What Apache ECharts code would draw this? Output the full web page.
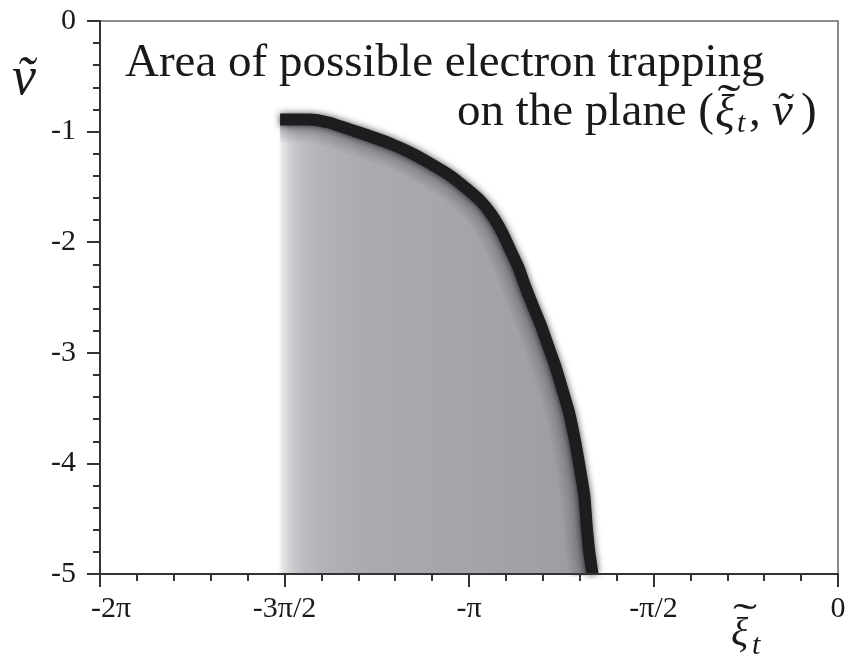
<!DOCTYPE html>
<html><head><meta charset="utf-8">
<script src="https://cdn.jsdelivr.net/npm/echarts@6/dist/echarts.min.js"></script>
<style>html,body{margin:0;padding:0;background:#fff}#c{width:846px;height:665px}</style>
</head><body><div id="c"></div>
<script>
const PI = Math.PI;
// x tick labels (multiples of pi/2 from -2pi to 0)
const xTickLabels = ['-2π', '-3π/2', '-π', '-π/2', '0'];
// left edge of the trapping area (xi, rad)
const leftXi = -4.77;
// dark boundary band centre line: xi (rad) and v
const bandXi = [-4.75, -4.50, -4.33, -4.16, -3.99, -3.81, -3.64, -3.47, -3.30, -3.18, -3.05, -2.95, -2.86, -2.79, -2.72, -2.67, -2.60, -2.53, -2.47, -2.41, -2.35, -2.29, -2.24, -2.20, -2.16, -2.14, -2.12, -2.09];
const bandV  = [-0.89, -0.89, -0.92, -0.98, -1.04, -1.11, -1.19, -1.29, -1.40, -1.50, -1.62, -1.75, -1.91, -2.07, -2.23, -2.38, -2.57, -2.75, -2.93, -3.11, -3.32, -3.54, -3.79, -4.03, -4.29, -4.56, -4.78, -5.00];

const SERIF = "'Liberation Serif', 'Times New Roman', serif";
const TXT = '#1a1a1a';
const bandData = bandXi.map((x, i) => [x, bandV[i]]);

function renderInterior(params, api) {
  const pts = bandData.map(p => api.coord(p));
  const top = api.coord([leftXi, bandV[0]]), bot = api.coord([leftXi, bandV[bandV.length - 1]]);
  const x0 = top[0], span = 330;
  const st = [[0,'#ffffff'],[5,'#e6e6e8'],[12,'#d0d0d3'],[22,'#c0c0c4'],[45,'#b3b3b7'],[90,'#ababaf'],[180,'#a6a6aa'],[250,'#a1a1a5'],[330,'#9a9a9e']];
  const g = new echarts.graphic.LinearGradient(x0, 0, x0 + span, 0, st.map(s => ({ offset: s[0] / span, color: s[1] })), true);
  return { type: 'polygon', shape: { points: [top].concat(pts, [bot]) }, style: { fill: g } };
}
function renderCover(params, api) {
  const pts = bandData.map(p => api.coord(p));
  const cs = params.coordSys;
  const R = cs.x + cs.width - 1.5, T = cs.y + 1.5, B = cs.y + cs.height;
  const poly = pts.concat([[R, B], [R, T], [pts[0][0] - 3, T], [pts[0][0] - 3, pts[0][1]]]);
  return { type: 'polygon', shape: { points: poly }, style: { fill: '#ffffff' } };
}

const chart = echarts.init(document.getElementById('c'), null, { renderer: 'canvas' });
const axisCommon = {
  z: 20,
  axisLine: { onZero: false, lineStyle: { color: '#333', width: 2 } },
  axisTick: { inside: false, length: 13, lineStyle: { color: '#333', width: 2 } },
  minorTick: { show: true, splitNumber: 5, length: 7, lineStyle: { color: '#333', width: 2 } },
  splitLine: { show: false }, minorSplitLine: { show: false }
};
const bandLine = (w, color, z, extra) => ({
  type: 'line', data: bandData, symbol: 'none', smooth: 0.2, silent: true, z: z,
  lineStyle: Object.assign({ color: color, width: w, cap: 'butt', join: 'round' }, extra || {})
});
const halo = [];
[46, 40, 34, 28, 22, 16].forEach((w, i) => halo.push(bandLine(w, 'rgba(40,40,46,0.055)', 2 + i * 0.01)));

const txt = (x, y, text, font, align, extra) => Object.assign({ type: 'text', x: x, y: y, z: 100, style: { text: text, font: font, fill: TXT, align: align || 'left', verticalAlign: 'middle' } }, extra || {});

chart.setOption({
  animation: false,
  backgroundColor: '#fff',
  grid: { left: 100, right: 8, top: 21, bottom: 91, show: true, borderColor: '#666', borderWidth: 1.5, containLabel: false, outerBoundsMode: 'none' },
  xAxis: Object.assign({
    type: 'value', min: -2 * PI, max: 0, interval: PI / 2,
    axisLabel: {
      margin: 20, fontSize: 30, fontFamily: SERIF, color: TXT, showMinLabel: true, showMaxLabel: true,
      formatter: v => { const k = Math.round((v + 2 * PI) / (PI / 2)); const s = xTickLabels[k]; return k === 0 ? '{f|' + s + '}' : s; },
      rich: { f: { padding: [0, 0, 0, 22], fontSize: 30, fontFamily: SERIF, color: TXT } }
    }
  }, axisCommon),
  yAxis: Object.assign({
    type: 'value', min: -5, max: 0, interval: 1,
    axisLabel: { margin: 24, fontSize: 30, fontFamily: SERIF, color: TXT, padding: [9, 0, 0, 0], showMinLabel: true, showMaxLabel: true }
  }, axisCommon),
  series: [
    { type: 'custom', data: [bandData[0]], renderItem: renderInterior, silent: true, z: 1 },
    ...halo,
    { type: 'custom', data: [bandData[0]], renderItem: renderCover, silent: true, z: 4 },
    bandLine(12, '#1d1d20', 5, { shadowBlur: 7, shadowColor: 'rgba(0,0,0,0.7)' })
  ],
  graphic: [
    txt(125, 64, 'Area of possible electron trapping', '47px ' + SERIF),
    txt(714, 113, 'on the plane (', '47px ' + SERIF, 'right'),
    txt(715, 115, 'ξ', 'italic 46px ' + SERIF),
    txt(729, 104, '˜', '46px ' + SERIF, 'center', { scaleX: 1.5 }),
    txt(737, 124, 't', 'italic 30px ' + SERIF),
    txt(749, 113, ',', '47px ' + SERIF),
    txt(772, 113, 'v\u0303', 'italic 47px ' + SERIF),
    txt(801, 113, ')', '47px ' + SERIF),
    txt(24, 80, 'v\u0303', 'italic 54px ' + SERIF, 'center'),
    txt(731, 634, 'ξ', 'italic 40px ' + SERIF),
    txt(745, 620, '˜', '40px ' + SERIF, 'center', { scaleX: 1.8 }),
    txt(752, 646, 't', 'italic 30px ' + SERIF)
  ]
});
</script></body></html>
